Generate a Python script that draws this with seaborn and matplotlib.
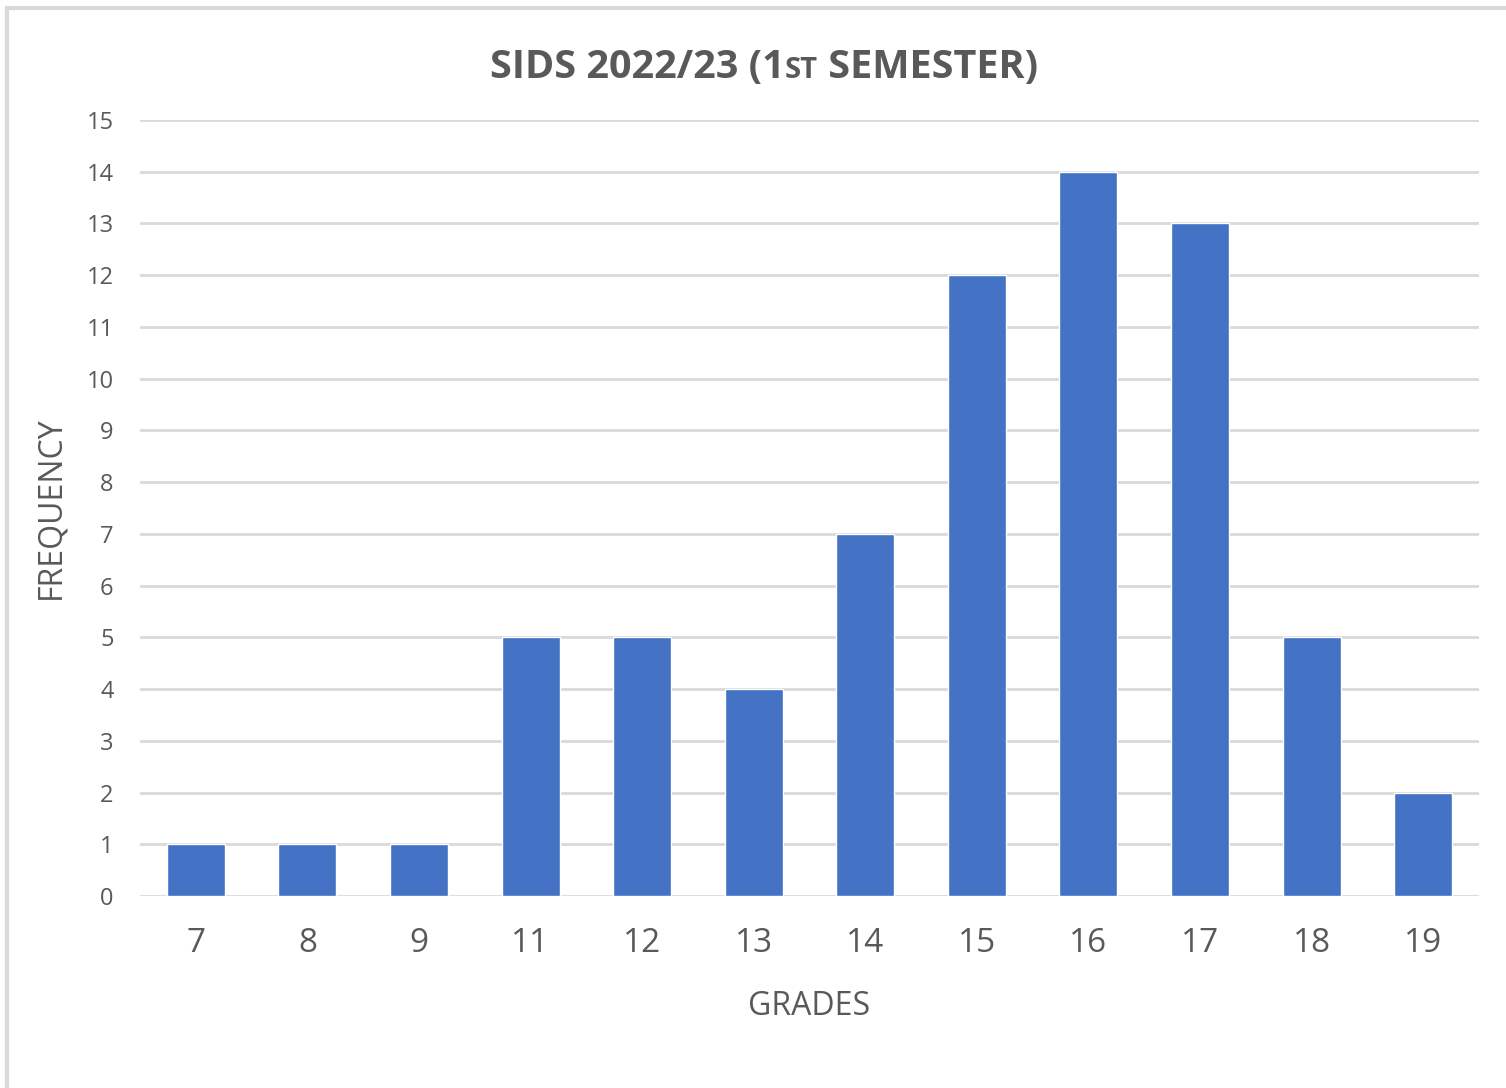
import matplotlib
matplotlib.use("Agg")
import matplotlib.pyplot as plt
import seaborn as sns
import pandas as pd
from matplotlib.patches import Rectangle

grades = ["7", "8", "9", "11", "12", "13", "14", "15", "16", "17", "18", "19"]
frequency = [1, 1, 1, 5, 5, 4, 7, 12, 14, 13, 5, 2]
yticks = list(range(0, 16))

BAR = "#4472C4"
TXT = "#595959"
GRID = "#D9D9D9"

sns.set_theme(style="white")
plt.rcParams["font.family"] = ["Open Sans", "DejaVu Sans"]

df = pd.DataFrame({"grade": grades, "freq": frequency})

fig = plt.figure(figsize=(15.06, 10.88), dpi=100)
ax = fig.add_axes([140/1506, 1-896/1088, (1479-140)/1506, (896-120)/1088])

sns.barplot(data=df, x="grade", y="freq", color=BAR, width=0.52, saturation=1, ax=ax, zorder=3)

ax.set_xlim(-0.5, len(grades) - 0.5)
ax.set_ylim(0, 15)
ax.set_yticks(yticks)
ax.yaxis.grid(True, color=GRID, linewidth=2, zorder=0)
ax.xaxis.grid(False)
ax.set_axisbelow(True)
for s in ax.spines.values():
    s.set_visible(False)
ax.tick_params(axis="y", labelsize=17, colors=TXT, length=0, pad=19)
ax.tick_params(axis="x", labelsize=24, colors=TXT, length=0, pad=22)
ax.set_xlabel("GRADES", fontsize=23, color=TXT, labelpad=22)
ax.set_ylabel("FREQUENCY", fontsize=23, color=TXT, labelpad=14)

# Title with small caps "ST"
pieces = [("SIDS 2022/23 (1", 28.5), ("ST", 21), (" SEMESTER)", 28.5)]
baseline_y = 1 - 78/1088
texts = []
for s, fs in pieces:
    texts.append(fig.text(0, baseline_y, s, fontsize=fs, fontweight="bold", color=TXT,
                          ha="left", va="baseline"))
fig.canvas.draw()
r = fig.canvas.get_renderer()
widths = [t.get_window_extent(r).width for t in texts]
total = sum(widths)
x = 764 - total / 2
for t, w in zip(texts, widths):
    t.set_x(x / fig.bbox.width)
    x += w

# light frame
fig.patches.append(Rectangle((7/1506, -0.05), 1.1, 1 - 8/1088 + 0.05, transform=fig.transFigure,
                             fill=False, edgecolor="#D9D9D9", linewidth=3))

fig.savefig("out.png", dpi=100)
